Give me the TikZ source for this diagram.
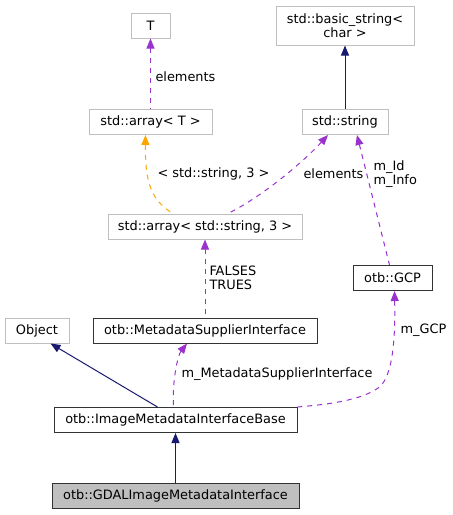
\documentclass[tikz,border=0pt]{standalone}
\usepackage{fontspec}
\setmainfont{DejaVu Sans}
\usepackage{tikz}
\usetikzlibrary{arrows.meta}
\definecolor{edgeBlue}{HTML}{191970}
\definecolor{edgePurple}{HTML}{9A32CD}
\definecolor{edgeOrange}{HTML}{FFA500}
\definecolor{boxGray}{HTML}{BFBFBF}
\tikzstyle{extBlock} = [rectangle, draw=boxGray, line width=1pt, inner sep=0pt, minimum height=25, align=center]
\tikzstyle{otbBlock} = [rectangle, draw=black!80, line width=1pt, inner sep=0pt, minimum height=25, align=center]
\tikzstyle{curBlock} = [otbBlock, fill=boxGray]
\tikzstyle{inherit} = [draw=edgeBlue, line width=1pt, {Triangle[length=10pt,width=8pt,fill=edgeBlue]}-]
\tikzstyle{usage} = [draw=edgePurple, line width=1pt, dash pattern=on 5pt off 5pt, {Triangle[length=10pt,width=8pt,fill=edgePurple,sep=0pt]}-]
\tikzstyle{templ} = [draw=edgeOrange, line width=1pt, dash pattern=on 5pt off 5pt, {Triangle[length=10pt,width=8pt,fill=edgeOrange]}-]
\tikzstyle{lbl} = [inner sep=0pt, align=left, text=black]

\begin{document}
\begin{tikzpicture}[x=1pt, y=-1pt, font=\fontsize{12.9}{14.5}\selectfont]
    \useasboundingbox (0,0) rectangle (453,515);
    % Place nodes
    \node [extBlock, minimum width=39] (T) at (150.5,25.5) {T};
    \node [extBlock, minimum width=138, minimum height=39] (basicstr) at (345,25.5) {std::basic\_string<\\ char >};
    \node [extBlock, minimum width=123] (arrT) at (150.5,122) {std::array< T >};
    \node [extBlock, minimum width=86] (str) at (345,122) {std::string};
    \node [extBlock, minimum width=194] (arrstr) at (205,226.5) {std::array< std::string, 3 >};
    \node [otbBlock, minimum width=79] (gcp) at (392.5,278) {otb::GCP};
    \node [extBlock, minimum width=64] (object) at (37,330.5) {Object};
    \node [otbBlock, minimum width=224] (supplier) at (205,330.5) {otb::MetadataSupplierInterface};
    \node [otbBlock, minimum width=243] (base) at (175.5,420) {otb::ImageMetadataInterfaceBase};
    \node [curBlock, minimum width=247] (gdal) at (175.5,495.5) {otb::GDALImageMetadataInterface};
    % Draw edges
    \path [usage] (T) -- (arrT) node [lbl, anchor=west, at={(155,77)}] {elements};
    \path [inherit] (basicstr) -- (str);
    \path [templ] ([xshift=-5]arrT.south) .. controls (145,180) and (150,200) .. ([xshift=-32]arrstr.north)
        node [lbl, anchor=west, at={(157,174)}] {< std::string, 3 >};
    \path [usage] ([xshift=-17]str.south) .. controls (305,160) and (265,195) .. ([xshift=23]arrstr.north)
        node [lbl, anchor=west, at={(303,174)}] {elements};
    \path [usage] ([xshift=12]str.south) -- ([xshift=-3]gcp.north)
        node [lbl, anchor=west, at={(373,174)}] {m\_Id\\m\_Info};
    \path [usage] (arrstr) -- (supplier)
        node [lbl, anchor=west, at={(209,278)}] {FALSES\\TRUES};
    \path [inherit] ([xshift=-19]object.south east) -- ([xshift=-18]base.north);
    \path [usage] ([xshift=-18]supplier.south) .. controls (178,355) and (172,380) .. ([xshift=-2]base.north)
        node [lbl, anchor=west, at={(181,374)}] {m\_MetadataSupplierInterface};
    \path [usage] ([xshift=2]gcp.south) .. controls (396,370) and (385,385) .. (375,390)
        .. controls (355,402) and (320,405) .. (base.north east)
        node [lbl, anchor=west, at={(400,330)}] {m\_GCP};
    \path [inherit] (base) -- (gdal);
\end{tikzpicture}
\end{document}
